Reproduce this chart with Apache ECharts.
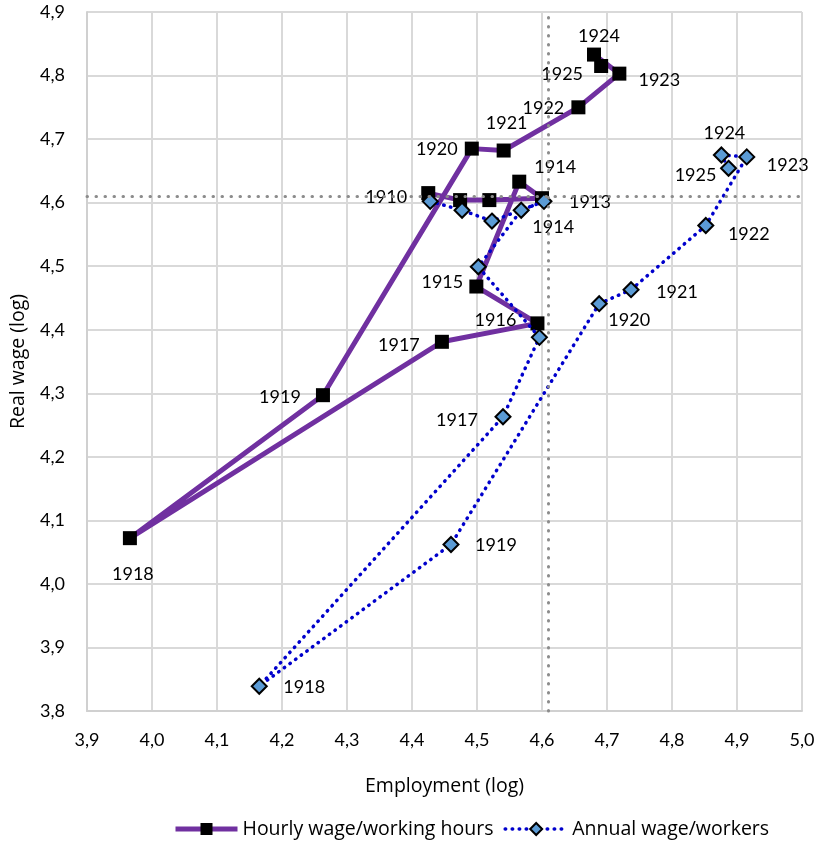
<!DOCTYPE html>
<html>
<head>
<meta charset="utf-8">
<script src="https://cdn.jsdelivr.net/npm/echarts@6/dist/echarts.min.js"></script>
<style>
  html, body { margin: 0; padding: 0; background: #fff; }
  #chart { width: 819px; height: 844px; }
</style>
</head>
<body>
<div id="chart"></div>
<script>
// Years covered by both series
const years = [1910, 1911, 1912, 1913, 1914, 1915, 1916, 1917, 1918, 1919, 1920, 1921, 1922, 1923, 1924, 1925];

// Hourly wage / working hours (log scale values)
const hourlyEmployment = [4.425, 4.474, 4.519, 4.600, 4.565, 4.499, 4.593, 4.446, 3.966, 4.263, 4.492, 4.541, 4.656, 4.719, 4.680, 4.691];
const hourlyWage       = [4.615, 4.604, 4.604, 4.607, 4.633, 4.468, 4.410, 4.381, 4.072, 4.297, 4.685, 4.682, 4.750, 4.803, 4.833, 4.815];

// Annual wage / workers (log scale values)
const annualEmployment = [4.428, 4.477, 4.523, 4.603, 4.568, 4.502, 4.596, 4.540, 4.165, 4.460, 4.688, 4.737, 4.852, 4.915, 4.876, 4.887];
const annualWage       = [4.602, 4.588, 4.571, 4.602, 4.588, 4.499, 4.388, 4.263, 3.839, 4.062, 4.441, 4.463, 4.564, 4.672, 4.675, 4.654];

// Base-year reference level (log of 100)
const refLevel = 4.605;

// Axis ranges
const xMin = 3.9, xMax = 5.0, yMin = 3.8, yMax = 4.9, step = 0.1;

const seriesNames = ['Hourly wage/working hours', 'Annual wage/workers'];

// Year label placement (pixel offset of the label centre from the marker)
const hourlyLabelOffset = {
  1910: [-42, 4], 1914: [36, -14], 1915: [-34, -4], 1916: [-42, -3], 1917: [-43, 3],
  1918: [3, 36], 1919: [-43, 2], 1920: [-35, 1], 1921: [3, -27], 1922: [-35, 1],
  1923: [40, 7], 1924: [5, -18], 1925: [-39, 8]
};
const annualLabelOffset = {
  1913: [46, 1], 1914: [32, 17], 1917: [-46, 3], 1918: [45, 1], 1919: [45, 1],
  1920: [30, 17], 1921: [46, 2], 1922: [43, 9], 1923: [41, 8], 1924: [3, -22], 1925: [-33, 7]
};

const NUM_FONT = 'Lato, "Open Sans", sans-serif';
const TEXT_FONT = '"Open Sans", Lato, sans-serif';

function buildPoints(xs, ys, offsets) {
  return years.map((yr, i) => {
    const off = offsets[yr];
    return {
      value: [xs[i], ys[i]],
      label: off ? {
        show: true,
        position: 'inside',
        offset: off,
        formatter: String(yr),
        color: '#000',
        fontFamily: NUM_FONT,
        fontSize: 18,
        align: 'center',
        verticalAlign: 'middle',
        textBorderWidth: 0
      } : { show: false }
    };
  });
}

const fmt = v => v.toFixed(1).replace('.', ',');

const chart = echarts.init(document.getElementById('chart'), null, { renderer: 'canvas' });

chart.setOption({
  animation: false,
  backgroundColor: '#fff',
  textStyle: { fontFamily: NUM_FONT },
  grid: { left: 87, right: 17, top: 12, bottom: 133, containLabel: false },
  xAxis: {
    type: 'value', min: xMin, max: xMax, interval: step,
    name: 'Employment (log)', nameLocation: 'middle', nameGap: 65,
    nameTextStyle: { fontFamily: TEXT_FONT, fontSize: 19.5, color: '#000' },
    axisLine: { show: true, lineStyle: { color: '#d0d0d0', width: 2 } },
    axisTick: { show: false },
    axisLabel: { formatter: fmt, fontFamily: NUM_FONT, fontSize: 18, color: '#000', margin: 20 },
    splitLine: { show: true, lineStyle: { color: '#d9d9d9', width: 2 } }
  },
  yAxis: {
    type: 'value', min: yMin, max: yMax, interval: step,
    name: 'Real wage (log)', nameLocation: 'middle', nameGap: 59,
    nameTextStyle: { fontFamily: TEXT_FONT, fontSize: 19.5, color: '#000' },
    axisLine: { show: true, lineStyle: { color: '#d0d0d0', width: 2 } },
    axisTick: { show: false },
    axisLabel: { formatter: fmt, fontFamily: NUM_FONT, fontSize: 18, color: '#000', margin: 22 },
    splitLine: { show: true, lineStyle: { color: '#d9d9d9', width: 2 } }
  },
  legend: {
    left: 173, top: 819, padding: 0,
    itemWidth: 62, itemHeight: 15, itemGap: 10,
    textStyle: { fontFamily: TEXT_FONT, fontSize: 19.5, color: '#000' },
    lineStyle: { width: 'inherit' },
    data: seriesNames
  },
  series: [
    {
      // reference lines at the base-year level
      type: 'line', data: [], z: 1, silent: true,
      markLine: {
        silent: true, symbol: 'none', animation: false,
        label: { show: false },
        lineStyle: { color: '#8c8c8c', width: 3, type: [0.5, 8.5], cap: 'round' },
        data: [{ xAxis: refLevel }, { yAxis: refLevel }]
      }
    },
    {
      name: seriesNames[0], type: 'line', z: 3,
      data: buildPoints(hourlyEmployment, hourlyWage, hourlyLabelOffset),
      symbol: 'rect', symbolSize: 14, showAllSymbol: true,
      lineStyle: { color: '#7030a0', width: 5 },
      itemStyle: { color: '#000', borderColor: '#000', borderWidth: 0 }
    },
    {
      name: seriesNames[1], type: 'line', z: 4,
      data: buildPoints(annualEmployment, annualWage, annualLabelOffset),
      symbol: 'diamond', symbolSize: 15, showAllSymbol: true,
      lineStyle: { color: '#0000cc', width: 3.5, type: [0.5, 6.5], cap: 'round' },
      itemStyle: { color: '#5b9bd5', borderColor: '#000', borderWidth: 2 }
    }
  ]
});
</script>
</body>
</html>
